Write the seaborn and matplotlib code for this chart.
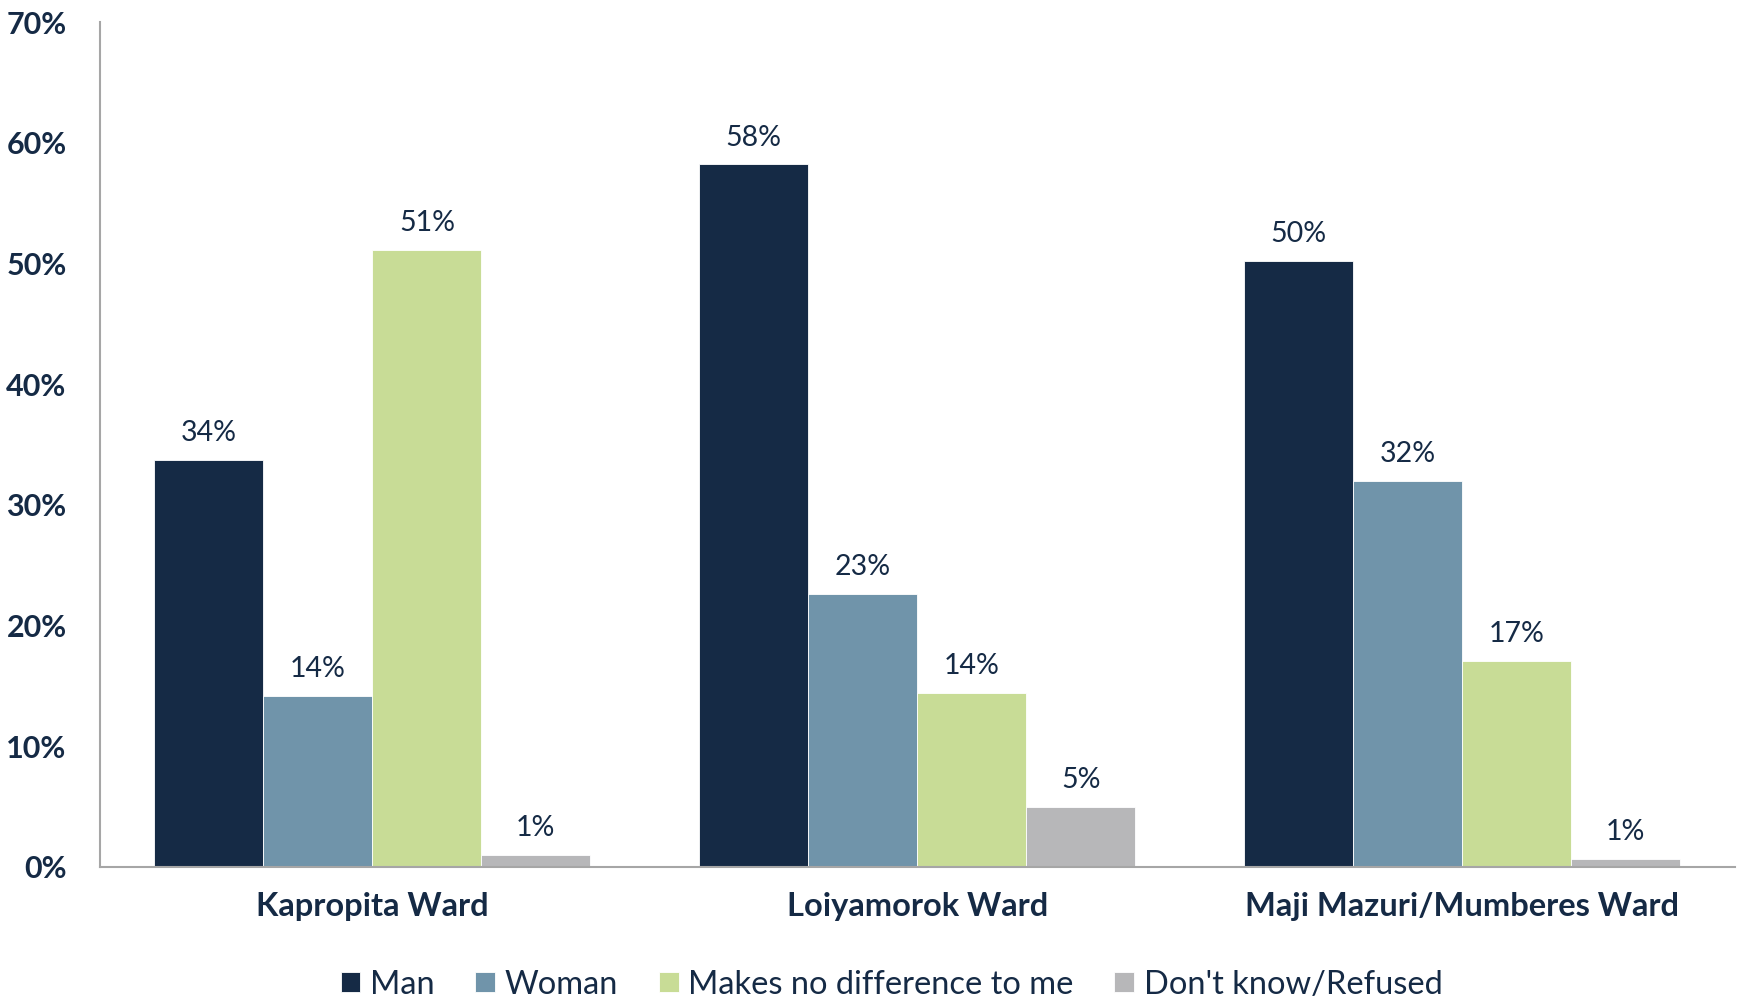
import matplotlib
matplotlib.use("Agg")
import matplotlib.pyplot as plt
import seaborn as sns
import pandas as pd

# Data (percent)
wards = ["Kapropita Ward", "Loiyamorok Ward", "Maji Mazuri/Mumberes Ward"]
answers = ["Man", "Woman", "Makes no difference to me", "Don't know/Refused"]
man = [33.7, 58.2, 50.2]
woman = [14.2, 22.6, 32.0]
no_difference = [51.1, 14.4, 17.1]
dont_know = [1.0, 5.0, 0.7]

colors = ["#152A45", "#7094AA", "#C8DC96", "#B7B7B9"]
text_color = "#152A45"
axis_color = "#A6A6A6"

rows = []
for series, name in zip([man, woman, no_difference, dont_know], answers):
    for ward, v in zip(wards, series):
        rows.append({"ward": ward, "answer": name, "pct": v})
df = pd.DataFrame(rows)

sns.set_style("white")
plt.rcParams["font.family"] = ["Lato", "DejaVu Sans"]

fig, ax = plt.subplots(figsize=(17.38, 10), dpi=100)
fig.subplots_adjust(left=0.0575, right=0.998, top=0.978, bottom=0.133)

sns.barplot(data=df, x="ward", y="pct", hue="answer", hue_order=answers,
            order=wards, palette=colors, width=0.8, saturation=1,
            edgecolor="white", linewidth=0.6, ax=ax, legend=True)

# value labels above bars
for container in ax.containers:
    labels = [f"{round(b.get_height()):.0f}%" for b in container]
    ax.bar_label(container, labels=labels, padding=10, fontsize=20.5,
                 color=text_color)

ax.set_ylim(0, 70)
ax.set_xlim(-0.5, 2.5)
ax.set_yticks(range(0, 71, 10))
ax.set_yticklabels([f"{v}%" for v in range(0, 71, 10)], fontsize=22,
                   fontweight="bold", color=text_color)
ax.set_xticks(range(len(wards)))
ax.set_xticklabels(wards, fontsize=23.5, fontweight="bold", color=text_color)
ax.set_xticks([-0.5, 0.5, 1.5, 2.5], minor=True)
ax.tick_params(axis="x", which="major", length=0, pad=18)
ax.tick_params(axis="x", which="minor", length=10, width=1.2,
               color=axis_color, direction="out")
ax.tick_params(axis="y", length=10, width=1.2, color=axis_color,
               direction="out", pad=14)
ax.set_xlabel("")
ax.set_ylabel("")

for side in ["top", "right"]:
    ax.spines[side].set_visible(False)
for side in ["left", "bottom"]:
    ax.spines[side].set_color(axis_color)
    ax.spines[side].set_linewidth(1.5)

handles, labels = ax.get_legend_handles_labels()
ax.get_legend().remove()
fig.legend(handles, labels, loc="lower center", bbox_to_anchor=(0.513, -0.029),
           ncol=4, frameon=False, fontsize=23.5, handlelength=0.6,
           handleheight=0.6, handletextpad=0.3, columnspacing=1.25,
           labelcolor=text_color)

plt.savefig("out.png", dpi=100)
plt.close()
